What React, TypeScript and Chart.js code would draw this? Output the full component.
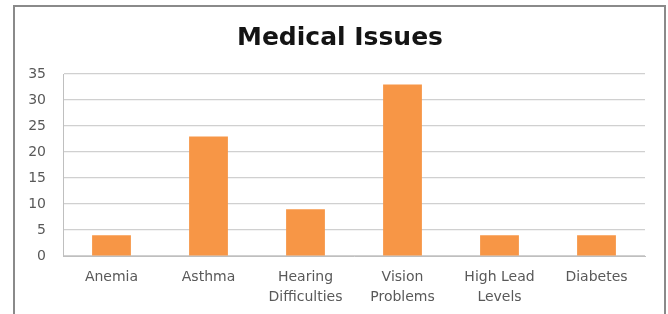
import React, { useEffect, useRef } from "react";
import { Chart, registerables } from "chart.js";

Chart.register(...registerables);

const categories: string[][] = [
  ["Anemia"],
  ["Asthma"],
  ["Hearing", "Difficulties"],
  ["Vision", "Problems"],
  ["High Lead", "Levels"],
  ["Diabetes"],
];
const values: number[] = [4, 23, 9, 33, 4, 4];
const yTicks: number[] = [0, 5, 10, 15, 20, 25, 30, 35];
const titleText = "Medical Issues";

export default function App() {
  const ref = useRef<HTMLCanvasElement | null>(null);
  useEffect(() => {
    if (!ref.current) return;
    const chart = new Chart(ref.current, {
      type: "bar",
      data: {
        labels: categories,
        datasets: [
          {
            data: values,
            backgroundColor: "#f79646",
            borderWidth: 0,
            barPercentage: 0.4,
            categoryPercentage: 1,
            yAxisID: "y",
          },
        ],
      },
      options: {
        animation: false,
        responsive: false,
        maintainAspectRatio: false,
        layout: { padding: { left: 12, right: 0, top: 0, bottom: 0 } },
        plugins: {
          legend: { display: false },
          tooltip: { enabled: false },
          title: {
            display: true,
            text: titleText,
            color: "#141414",
            font: { family: "DejaVu Sans", size: 25, weight: "bold", lineHeight: 1.2 },
            padding: { top: 23, bottom: 21 },
          },
        },
        scales: {
          x: {
            grid: { display: false, drawTicks: false },
            border: { display: true, color: "#bfbfbf", width: 1 },
            ticks: {
              color: "#595959",
              font: { family: "DejaVu Sans", size: 14, lineHeight: 1.4 },
              padding: 12,
              maxRotation: 0,
              autoSkip: false,
            },
            afterFit: (s: any) => {
              s.height = 58;
            },
          },
          y: {
            position: "left",
            min: 0,
            max: 35,
            afterBuildTicks: (s: any) => {
              s.ticks = yTicks.map((v) => ({ value: v }));
            },
            grid: { color: "#d0d0d0", lineWidth: 1.2, drawTicks: false },
            border: { display: true, color: "#bfbfbf", width: 1 },
            ticks: {
              color: "#595959",
              font: { family: "DejaVu Sans", size: 14 },
              padding: 17,
            },
            afterFit: (s: any) => {
              s.width = 51;
            },
          },
          yRight: {
            type: "linear",
            position: "right",
            display: true,
            min: 0,
            max: 35,
            grid: { display: false, drawTicks: false },
            border: { display: false },
            ticks: { display: false },
            afterFit: (s: any) => {
              s.width = 23;
            },
          },
        },
      },
    });
    return () => chart.destroy();
  }, []);

  return (
    <div
      style={{
        position: "fixed",
        left: 0,
        top: 0,
        width: 668,
        height: 314,
        overflow: "hidden",
        background: "#fff",
      }}
    >
      <div
        style={{
          position: "absolute",
          left: 13,
          top: 5,
          width: 653,
          height: 340,
          border: "2px solid #8a8a8a",
          boxSizing: "border-box",
        }}
      />
      <canvas
        ref={ref}
        width={668}
        height={314}
        style={{ position: "absolute", left: 0, top: 0, width: 668, height: 314 }}
      />
    </div>
  );
}
